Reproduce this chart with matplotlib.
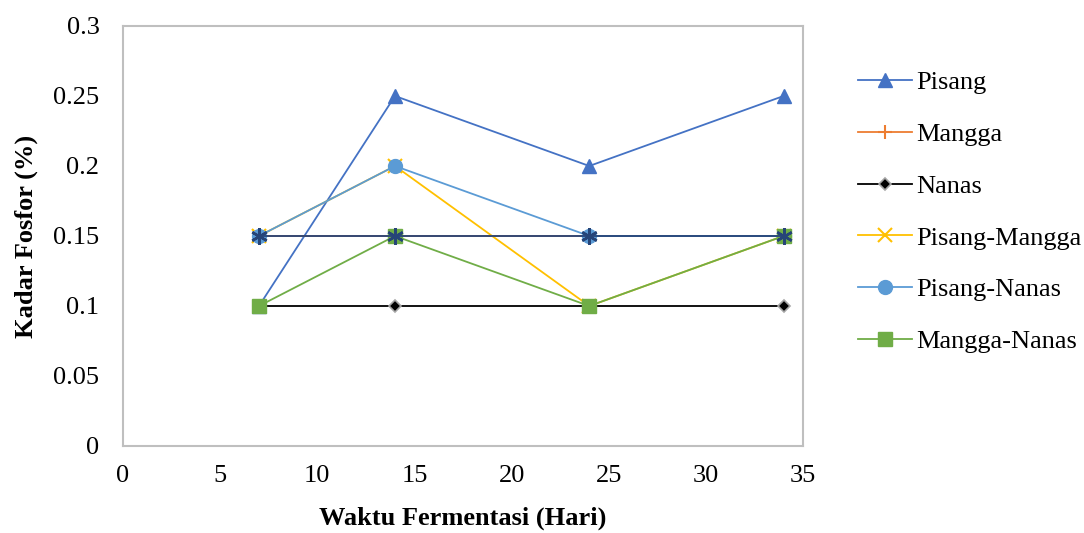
import matplotlib.pyplot as plt

# data
days = [7, 14, 24, 34]
pisang = [0.10, 0.25, 0.20, 0.25]
mangga = [0.15, 0.15, 0.15, 0.15]
nanas = [0.10, 0.10, 0.10, 0.10]
pisang_mangga = [0.15, 0.20, 0.10, 0.15]
pisang_nanas = [0.15, 0.20, 0.15, 0.15]
mangga_nanas = [0.10, 0.15, 0.10, 0.15]
extra = [0.15, 0.15, 0.15, 0.15]  # unlabeled series (legend entry removed)

plt.rcParams['font.family'] = ['Liberation Serif', 'DejaVu Serif']
fs = 19

fig = plt.figure(figsize=(10.84, 5.33), dpi=100)
ax = fig.add_axes([123 / 1084, 87 / 533, 680 / 1084, 420 / 533])

ax.plot(days, pisang, color='#4472C4', lw=1.3, marker='^', ms=10,
        label='Pisang')
ax.plot(days, mangga, color='#ED7D31', lw=1.3, marker='+', ms=10, mew=1.5,
        label='Mangga')
ax.plot(days, nanas, color='black', lw=1.3, marker='D', ms=6,
        mfc='black', mec='#A5A5A5', mew=1.2, label='Nanas')
ax.plot(days, pisang_mangga, color='#FFC000', lw=1.3, marker='x', ms=10,
        mew=1.5, label='Pisang-Mangga')
ax.plot(days, pisang_nanas, color='#5B9BD5', lw=1.3, marker='o', ms=10,
        label='Pisang-Nanas')
ax.plot(days, mangga_nanas, color='#70AD47', lw=1.3, marker='s', ms=10,
        label='Mangga-Nanas')
ax.plot(days, extra, color='#264478', lw=1.3, marker=(6, 2, 0), ms=12,
        mew=1.8)

ax.set_xlim(0, 35)
ax.set_ylim(0, 0.3)
ax.set_xticks(range(0, 36, 5))
ax.set_yticks([0, 0.05, 0.1, 0.15, 0.2, 0.25, 0.3])
ax.set_yticklabels(['0', '0.05', '0.1', '0.15', '0.2', '0.25', '0.3'])
ax.tick_params(axis='y', length=0, labelsize=fs, pad=17)
ax.tick_params(axis='x', length=0, labelsize=fs, pad=14)
for s in ax.spines.values():
    s.set_color('#BFBFBF')
    s.set_linewidth(1.5)

ax.set_xlabel('Waktu Fermentasi (Hari)', fontsize=fs, fontweight='bold',
              labelpad=14)
ax.set_ylabel('Kadar Fosfor (%)', fontsize=fs, fontweight='bold',
              labelpad=11)

handles, labels = ax.get_legend_handles_labels()
fig.legend(handles, labels, loc='upper left',
           bbox_to_anchor=(858 / 1084, 1 - 71 / 533),
           frameon=False, fontsize=fs, handlelength=2.05, handletextpad=0.15,
           labelspacing=1.07, borderpad=0, borderaxespad=0)

fig.savefig('out.png', dpi=100)
